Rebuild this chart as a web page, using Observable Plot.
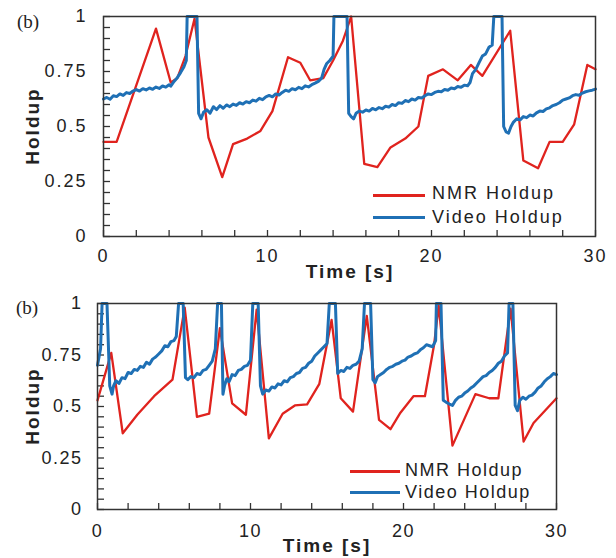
<!DOCTYPE html>
<html><head><meta charset="utf-8">
<script src="https://cdn.jsdelivr.net/npm/d3@7"></script>
<script src="https://cdn.jsdelivr.net/npm/@observablehq/plot@0.6"></script>
<style>
body{margin:0;background:#fff;}
#wrap{position:relative;width:616px;height:558px;overflow:hidden;font-family:"Liberation Sans",Arial,sans-serif;color:#222;}
#wrap svg{position:absolute;left:0;}
.abs{position:absolute;white-space:nowrap;line-height:1;}
.c{transform:translate(-50%,-50%);}
.l{transform:translate(0,-50%);}
.rot{transform:translate(-50%,-50%) rotate(-90deg);}
.b{font-weight:bold;font-size:19px;letter-spacing:2px;}
.p{font-family:"Liberation Serif","Times New Roman",serif;font-size:19px;}
.lg{font-size:18px;letter-spacing:2px;}
.ln{position:absolute;height:3px;}
</style></head><body><div id="wrap"></div>
<script>
// ---- tick labels ----
const xTickLabels = [0, 10, 20, 30];
const yTickLabels = [0, 0.25, 0.5, 0.75, 1];
const xMinorTicks = [0,2,4,6,8,10,12,14,16,18,20,22,24,26,28,30];
const yMinorTicks = [0,0.05,0.1,0.15,0.2,0.25,0.3,0.35,0.4,0.45,0.5,0.55,0.6,0.65,0.7,0.75,0.8,0.85,0.9,0.95,1];
const seriesNames = ["NMR Holdup", "Video Holdup"];

// ---- top panel: NMR holdup ----
const topNmrT = [0,0.8,3.2,4.1,4.5,5.0,5.55,6.4,7.24,7.9,8.76,9.57,10.3,11.25,12.0,12.6,13.4,14.0,14.6,15.1,15.9,16.7,17.5,18.4,19.2,19.8,20.7,21.6,22.4,23.1,24.8,25.6,26.5,27.2,28.0,28.7,29.5,30];
const topNmrV = [0.43,0.43,0.945,0.70,0.72,0.82,0.99,0.45,0.27,0.42,0.445,0.48,0.57,0.815,0.79,0.71,0.72,0.80,0.89,1.0,0.33,0.315,0.405,0.445,0.50,0.73,0.76,0.71,0.78,0.73,0.935,0.345,0.31,0.43,0.43,0.51,0.78,0.76];

// ---- top panel: Video holdup ----
const topVidT = [0,0.2,0.4,0.6,0.8,1.0,1.2,1.4,1.6,1.8,2.0,2.2,2.4,2.6,2.8,3.0,3.2,3.4,3.6,3.8,4.0,4.1,4.3,4.5,4.7,4.9,5.05,5.1,5.7,5.8,5.95,6.1,6.3,6.5,6.7,6.9,7.1,7.3,7.5,7.7,7.9,8.1,8.3,8.5,8.7,8.9,9.1,9.3,9.5,9.7,9.9,10.1,10.3,10.5,10.7,10.9,11.1,11.3,11.5,11.7,11.9,12.1,12.3,12.5,12.7,12.9,13.1,13.3,13.45,13.6,13.8,14.0,14.05,14.85,14.95,15.1,15.25,15.4,15.6,15.8,16.0,16.2,16.4,16.6,16.8,17.0,17.2,17.4,17.6,17.8,18.0,18.2,18.4,18.6,18.8,19.0,19.2,19.4,19.6,19.8,20.0,20.2,20.4,20.6,20.8,21.0,21.2,21.4,21.6,21.8,22.0,22.2,22.35,22.5,22.7,22.9,23.1,23.3,23.5,23.7,23.8,24.3,24.4,24.55,24.7,24.85,25.0,25.2,25.4,25.6,25.8,26.0,26.2,26.4,26.6,26.8,27.0,27.2,27.4,27.6,27.8,28.0,28.2,28.4,28.6,28.8,29.0,29.2,29.4,29.6,29.8,30.0];
const topVidV = [0.625,0.632,0.624,0.640,0.636,0.648,0.641,0.654,0.650,0.661,0.668,0.661,0.672,0.666,0.675,0.669,0.679,0.673,0.684,0.679,0.690,0.683,0.705,0.722,0.745,0.770,0.800,1.0,1.0,0.56,0.535,0.565,0.576,0.561,0.590,0.577,0.595,0.583,0.598,0.590,0.602,0.596,0.608,0.602,0.613,0.608,0.620,0.615,0.628,0.622,0.635,0.641,0.635,0.648,0.643,0.655,0.665,0.660,0.672,0.667,0.678,0.672,0.685,0.680,0.690,0.697,0.705,0.720,0.760,0.785,0.800,0.820,1.0,1.0,0.56,0.545,0.535,0.560,0.570,0.565,0.575,0.570,0.582,0.576,0.586,0.581,0.592,0.588,0.600,0.595,0.608,0.605,0.618,0.613,0.625,0.620,0.632,0.630,0.640,0.648,0.645,0.655,0.660,0.658,0.668,0.665,0.675,0.672,0.682,0.678,0.688,0.685,0.700,0.740,0.760,0.790,0.820,0.830,0.860,0.870,1.0,1.0,0.50,0.475,0.470,0.500,0.520,0.535,0.530,0.545,0.540,0.552,0.548,0.562,0.570,0.568,0.580,0.585,0.595,0.600,0.608,0.620,0.625,0.630,0.640,0.645,0.642,0.652,0.658,0.662,0.665,0.670];

// ---- bottom panel: NMR holdup ----
const botNmrT = [0,0.9,1.65,2.6,3.7,4.9,5.7,6.5,7.3,8.0,8.8,9.7,10.4,11.2,12.1,12.9,13.7,14.5,15.3,15.9,16.7,17.6,18.4,19.15,19.8,20.65,21.4,22.0,22.3,23.2,24.7,25.6,26.2,27.0,27.85,28.5,30];
const botNmrV = [0.53,0.76,0.37,0.46,0.55,0.63,0.98,0.45,0.465,0.88,0.515,0.46,0.97,0.345,0.465,0.505,0.51,0.61,0.92,0.54,0.475,0.94,0.435,0.39,0.47,0.55,0.55,0.80,0.99,0.31,0.56,0.54,0.54,0.975,0.33,0.42,0.54];

// ---- bottom panel: Video holdup ----
const botVidT = [0,0.2,0.3,0.62,0.8,0.95,1.05,1.2,1.4,1.6,1.8,2.0,2.2,2.4,2.6,2.8,3.0,3.2,3.4,3.6,3.8,4.0,4.2,4.4,4.6,4.8,5.0,5.15,5.3,5.6,5.75,5.9,6.1,6.3,6.5,6.7,6.9,7.1,7.3,7.5,7.7,7.85,8.1,8.2,8.3,8.45,8.6,8.8,9.0,9.2,9.4,9.6,9.8,10.0,10.15,10.5,10.65,10.8,11.0,11.2,11.4,11.6,11.8,12.0,12.2,12.4,12.6,12.8,13.0,13.2,13.4,13.6,13.8,14.0,14.2,14.4,14.6,14.8,15.0,15.15,15.55,15.7,15.9,16.1,16.3,16.5,16.7,16.9,17.1,17.3,17.45,17.85,18.0,18.15,18.3,18.5,18.7,18.9,19.1,19.3,19.5,19.7,19.9,20.1,20.3,20.5,20.7,20.9,21.1,21.3,21.5,21.7,21.9,22.1,22.15,22.45,22.6,22.8,23.0,23.2,23.4,23.6,23.8,24.0,24.2,24.4,24.6,24.8,25.0,25.2,25.4,25.6,25.8,26.0,26.2,26.4,26.6,26.8,26.9,27.15,27.3,27.45,27.6,27.8,28.0,28.2,28.4,28.6,28.8,29.0,29.2,29.4,29.6,29.8,30];
const botVidV = [0.70,0.78,1.0,1.0,0.60,0.56,0.60,0.625,0.612,0.640,0.635,0.665,0.660,0.680,0.675,0.695,0.690,0.715,0.705,0.730,0.740,0.755,0.770,0.795,0.790,0.815,0.820,0.840,1.0,1.0,0.64,0.630,0.645,0.640,0.660,0.655,0.675,0.680,0.700,0.720,0.780,1.0,1.0,0.56,0.60,0.635,0.620,0.655,0.650,0.675,0.680,0.695,0.700,0.725,1.0,1.0,0.60,0.56,0.580,0.575,0.595,0.590,0.610,0.605,0.625,0.620,0.640,0.645,0.660,0.665,0.685,0.690,0.710,0.720,0.745,0.760,0.775,0.790,0.805,1.0,1.0,0.66,0.675,0.670,0.690,0.685,0.700,0.705,0.720,0.780,1.0,1.0,0.63,0.615,0.645,0.655,0.665,0.680,0.690,0.695,0.705,0.710,0.720,0.725,0.740,0.745,0.755,0.760,0.775,0.785,0.800,0.795,0.790,0.820,1.0,1.0,0.53,0.52,0.512,0.505,0.530,0.545,0.550,0.565,0.575,0.590,0.600,0.615,0.630,0.645,0.650,0.665,0.675,0.690,0.710,0.720,0.745,0.760,1.0,1.0,0.505,0.48,0.530,0.545,0.535,0.550,0.555,0.570,0.590,0.600,0.620,0.635,0.645,0.660,0.655];

const zip = (T, V) => T.map((t, i) => ({t, v: V[i]}));

const RED = "#e0231e", BLUE = "#1f70b5", INK = "#222", FRAME = "#333";

function panel(cfg) {
  const plotW = 616 - cfg.ml - cfg.mr;
  const plotH = cfg.h - cfg.mt - cfg.mb;
  const xTickLen = 6 / plotH;      // vertical tick length in y units
  const yTickLen = 7 * 30 / plotW; // horizontal tick length in x units
  return Plot.plot({
    width: 616, height: cfg.h,
    marginLeft: cfg.ml, marginRight: cfg.mr, marginTop: cfg.mt, marginBottom: cfg.mb,
    x: {domain: [0, 30]},
    y: {domain: [0, 1]},
    style: `font-family:'Liberation Sans',Arial,sans-serif;font-size:18px;letter-spacing:${cfg.ls}px;color:${INK};background:transparent;overflow:visible;top:${cfg.top}px;`,
    marks: [
      Plot.ruleX(xMinorTicks, {x: d => d, y1: 0, y2: xTickLen, stroke: FRAME, strokeWidth: 1.3}),
      Plot.ruleY(yMinorTicks, {y: d => d, x1: 0, x2: yTickLen, stroke: FRAME, strokeWidth: 1.3}),
      Plot.line(cfg.nmr, {x: "t", y: "v", stroke: RED, strokeWidth: 2.3}),
      Plot.line(cfg.vid, {x: "t", y: "v", stroke: BLUE, strokeWidth: 3}),
      Plot.frame({stroke: FRAME, strokeWidth: 1.5}),
      Plot.axisX({ticks: xTickLabels, tickSize: 0, tickPadding: cfg.xpad, label: null, fill: INK, tickFormat: d => String(d)}),
      Plot.axisY({ticks: yTickLabels, tickSize: 0, tickPadding: cfg.ypad, label: null, fill: INK, tickFormat: d => String(d)})
    ]
  });
}

const wrap = document.getElementById("wrap");
wrap.appendChild(panel({top: 0, h: 280, ml: 103, mr: 21, mt: 16, mb: 44, ls: 2, xpad: 13, ypad: 16,
  nmr: zip(topNmrT, topNmrV), vid: zip(topVidT, topVidV)}));
wrap.appendChild(panel({top: 280, h: 278, ml: 97, mr: 60, mt: 23, mb: 49, ls: 1.5, xpad: 15, ypad: 15,
  nmr: zip(botNmrT, botNmrV), vid: zip(botVidT, botVidV)}));

function add(cls, text, x, y, extra) {
  const d = document.createElement("div");
  d.className = "abs " + cls;
  d.textContent = text;
  d.style.left = x + "px"; d.style.top = y + "px";
  if (extra) Object.assign(d.style, extra);
  wrap.appendChild(d);
}
function line(color, x, y, w) {
  const d = document.createElement("div");
  d.className = "ln";
  d.style.left = x + "px"; d.style.top = (y - 1.5) + "px"; d.style.width = w + "px";
  d.style.background = color;
  wrap.appendChild(d);
}
// top panel texts
add("p c", "(b)", 28, 21);
add("b rot", "Holdup", 32, 126);
add("b c", "Time [s]", 350, 271);
line(RED, 373, 195, 52); add("lg l", seriesNames[0], 432, 193);
line(BLUE, 373, 217, 52); add("lg l", seriesNames[1], 432, 217);
// bottom panel texts
add("p c", "(b)", 27, 307);
add("b rot", "Holdup", 32, 406);
add("b c", "Time [s]", 327, 545);
line(RED, 350, 471, 50); add("lg l", seriesNames[0], 405, 470, {letterSpacing: "1.5px"});
line(BLUE, 350, 492, 50); add("lg l", seriesNames[1], 405, 492, {letterSpacing: "1.5px"});
</script></body></html>
